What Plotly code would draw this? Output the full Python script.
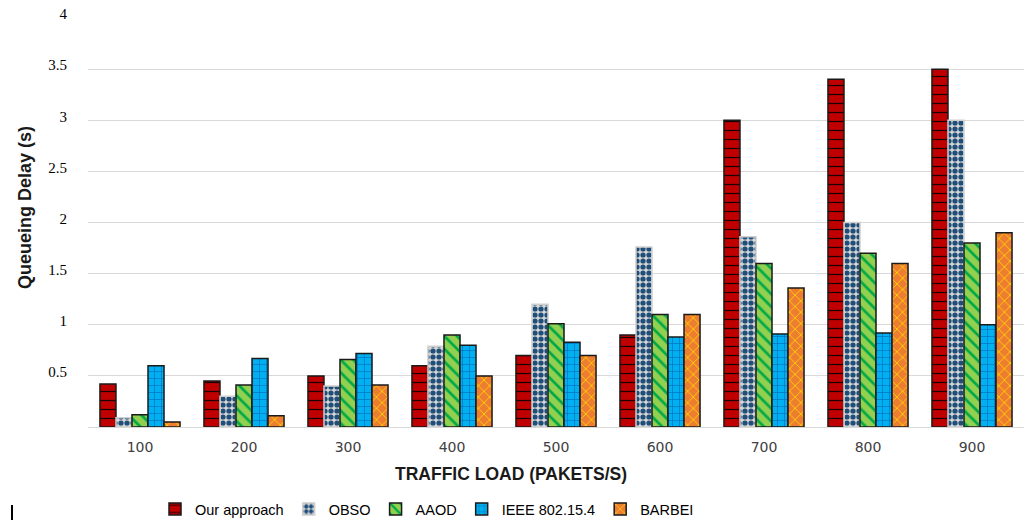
import plotly.graph_objects as go

# Traffic load categories (packets/s)
loads = ["100", "200", "300", "400", "500", "600", "700", "800", "900"]

# Queueing delay (s) per scheme
our_approach = [0.42, 0.45, 0.50, 0.60, 0.70, 0.90, 3.00, 3.40, 3.50]
obso = [0.09, 0.30, 0.40, 0.79, 1.20, 1.76, 1.86, 2.00, 3.00]
aaod = [0.12, 0.41, 0.66, 0.90, 1.01, 1.10, 1.60, 1.70, 1.80]
ieee_802154 = [0.60, 0.67, 0.72, 0.80, 0.83, 0.88, 0.91, 0.92, 1.00]
barbei = [0.05, 0.11, 0.41, 0.50, 0.70, 1.10, 1.36, 1.60, 1.90]

y_ticks = [0.5, 1, 1.5, 2, 2.5, 3, 3.5, 4]
y_tick_text = ["0.5", "1", "1.5", "2", "2.5", "3", "3.5", "4"]

series = [
    ("Our approach", our_approach,
     dict(bg="#c00000", fg="#1a0000", shape="-", size=9, sol=0.14), "#1a1a1a"),
    ("OBSO", obso,
     dict(bg="#d6d6d6", fg="#1f4e79", shape=".", size=6, sol=0.6), "#cfcfcf"),
    ("AAOD", aaod,
     dict(bg="#92d050", fg="#00a848", shape="\\", size=9, sol=0.3), "#1a1a1a"),
    ("IEEE 802.15.4", ieee_802154,
     dict(bg="#00b0f0", fg="#0070c0", shape="+", size=7, sol=0.18), "#1a1a1a"),
    ("BARBEI", barbei,
     dict(bg="#ed7d31", fg="#ffd800", shape="x", size=8, sol=0.2), "#1a1a1a"),
]

fig = go.Figure()
for name, vals, pat, edge in series:
    fig.add_trace(go.Bar(
        name=name,
        x=loads,
        y=vals,
        marker=dict(
            color=pat["bg"],
            line=dict(color=edge, width=1.5),
            pattern=dict(shape=pat["shape"], fgcolor=pat["fg"], bgcolor=pat["bg"],
                         size=pat["size"], solidity=pat["sol"],
                         fillmode="replace", fgopacity=1),
        ),
    ))

fig.update_layout(
    width=1030,
    height=520,
    margin=dict(l=88, r=6, t=18, b=93),
    paper_bgcolor="white",
    plot_bgcolor="white",
    barmode="group",
    bargap=0.23,
    bargroupgap=0,
    font=dict(family="Liberation Sans", color="#000000"),
    showlegend=True,
    legend=dict(
        orientation="h",
        xref="container", yref="container",
        x=427 / 1030, xanchor="center",
        y=(520 - 509) / 520, yanchor="middle",
        font=dict(family="Liberation Sans", size=14.5, color="#000000"),
        itemwidth=30,
        traceorder="normal",
    ),
    xaxis=dict(
        type="category",
        showgrid=False,
        showline=False,
        ticks="",
        tickfont=dict(family="DejaVu Sans", size=14, color="#404040"),
        ticklabelstandoff=10,
    ),
    yaxis=dict(
        range=[0, 4],
        tickvals=y_ticks,
        ticktext=y_tick_text,
        showgrid=True,
        gridcolor="#d9d9d9",
        gridwidth=1,
        zeroline=True,
        zerolinecolor="#d9d9d9",
        zerolinewidth=1,
        showline=False,
        ticks="",
        tickfont=dict(family="Liberation Serif", size=15, color="#000000"),
        ticklabelstandoff=20,
        ticklabelshift=-4,
    ),
    annotations=[
        dict(text="<b>TRAFFIC LOAD (PAKETS/S)</b>", xref="paper", yref="paper",
             x=(511 - 88) / 936, y=(427 - 474) / 409, xanchor="center", yanchor="middle",
             showarrow=False, font=dict(family="Liberation Sans", size=17.5, color="#1a1a1a")),
        dict(text="<b>Queueing Delay (s)</b>", xref="paper", yref="paper",
             x=(25 - 88) / 936, y=(427 - 208) / 409, xanchor="center", yanchor="middle",
             textangle=-90, showarrow=False,
             font=dict(family="Liberation Sans", size=18, color="#1a1a1a")),
    ],
    shapes=[
        dict(type="line", xref="paper", yref="paper",
             x0=(12 - 88) / 936, x1=(12 - 88) / 936,
             y0=(427 - 505) / 409, y1=(427 - 520) / 409,
             line=dict(color="#000000", width=2)),
    ],
)

fig.write_html("out.html")
